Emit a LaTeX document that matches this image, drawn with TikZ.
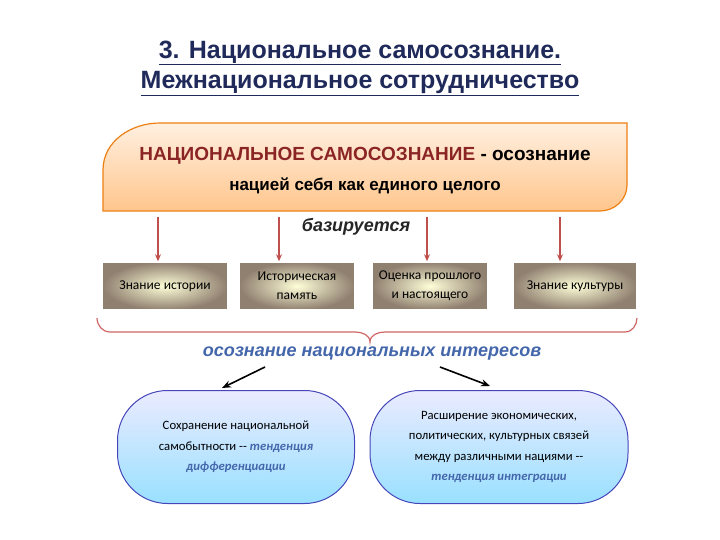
\documentclass[tikz,border=0pt]{standalone}
\usepackage{fontspec}
\setmainfont{Liberation Sans}
\newfontfamily\carl{Carlito}
\usetikzlibrary{arrows.meta}
\definecolor{ttl}{HTML}{1F2A5A}
\definecolor{nsred}{HTML}{8B2525}
\definecolor{arr}{HTML}{C0504D}
\definecolor{bl}{HTML}{4466AA}
\begin{document}
\begin{tikzpicture}[x=1pt,y=-1pt,
  gbox/.style={draw=white,line width=1.5pt,inner color=white!85!yellow,outer color=gray!75!brown,minimum width=#1,minimum height=48pt,align=center,font=\carl\fontsize{13.5}{19}\selectfont},
  oval/.style={draw=blue!45!gray,line width=1pt,rounded corners=50pt,top color=blue!8,bottom color=blue!30!cyan!40,align=center,minimum height=113pt,font=\carl\fontsize{12.7}{20.5}\selectfont},
  rarr/.style={arr,line width=1.2pt,-{Stealth[length=7pt,width=6pt]}},
  karr/.style={black,line width=1.6pt,-{Stealth[length=9pt,width=7pt]}},
  it/.style={font=\bfseries\itshape\fontsize{18}{20}\selectfont}]
\useasboundingbox (0,0) rectangle (720,540);
\node[ttl,font=\bfseries\fontsize{25}{30}\selectfont,align=center] (title) at (360,68)
  {\underline{3. Национальное самосознание.}\\\underline{Межнациональное сотрудничество}};
\path[draw=orange!70!brown,line width=1.2pt,top color=orange!12,bottom color=orange!45]
  (103,211) -- (103,170) to[out=90,in=180] (160,123) -- (627,123) -- (627,185) to[out=-90,in=0] (600,211) -- cycle;
\node[font=\bfseries\fontsize{19}{22}\selectfont] (top1) at (365,156) {\textcolor{nsred}{НАЦИОНАЛЬНОЕ САМОСОЗНАНИЕ} - осознание};
\node[font=\bfseries\fontsize{17}{20}\selectfont] (top2) at (365,186) {нацией себя как единого целого};
\node[it,gray!30!black] (baz) at (356,227) {базируется};
\node[gbox=125pt] (b1) at (165,286) {Знание истории};
\node[gbox=115pt] (b2) at (297,286) {Историческая\\память};
\node[gbox=115pt] (b3) at (430,286) {Оценка прошлого\\и настоящего};
\node[gbox=124pt] (b4) at (575,286) {Знание культуры};
\foreach \x/\n in {158/b1,279/b2,427/b3,560/b4}{
  \coordinate (s\n) at (\x,217);
  \draw[rarr] (s\n) -- (s\n |- \n.north);}
\draw[arr!80!pink,line width=1.2pt] (97,318) to[out=-90,in=180] (110,332) -- (355,332) to[out=0,in=90] (370,342) to[out=90,in=180] (385,332) -- (625,332) to[out=0,in=-90] (637,318);
\node[it,bl] (int) at (372,354) {осознание национальных интересов};
\node[oval,minimum width=237pt] (o1) at (236,447) {Сохранение национальной\\самобытности -- \textcolor{bl}{\bfseries\itshape тенденция}\\\textcolor{bl}{\bfseries\itshape дифференциации}};
\node[oval,minimum width=258pt] (o2) at (499,447) {Расширение экономических,\\политических, культурных связей\\между различными нациями --\\\textcolor{bl}{\bfseries\itshape тенденция интеграции}};
\coordinate (a1) at (265,367); \coordinate (a2) at (440,367);
\draw[karr] (a1) -- (222,388);
\draw[karr] (a2) -- (490,386);
\end{tikzpicture}
\end{document}
